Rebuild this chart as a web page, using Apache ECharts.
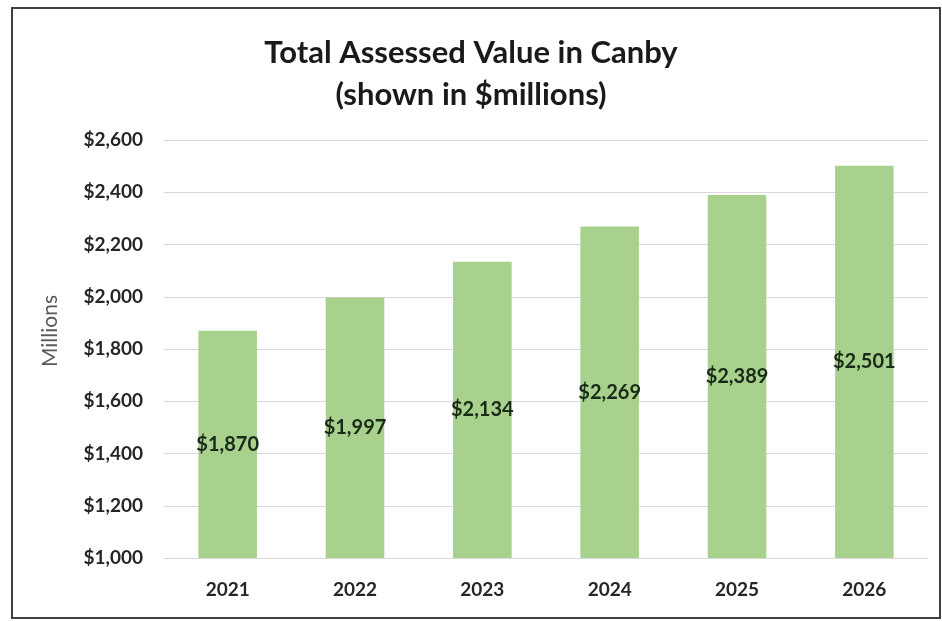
<!DOCTYPE html>
<html>
<head>
<meta charset="utf-8">
<script src="https://cdn.jsdelivr.net/npm/echarts@6/dist/echarts.min.js"></script>
<style>
  html, body { margin: 0; padding: 0; background: #ffffff; }
  #chart { width: 942px; height: 621px; }
</style>
</head>
<body>
<div id="chart"></div>
<script>
// Assessed value by year, in $ millions
const years = ['2021', '2022', '2023', '2024', '2025', '2026'];
const assessedValues = [1870, 1997, 2134, 2269, 2389, 2501];
const yTicks = { min: 1000, max: 2600, step: 200 };

const fmtMoney = v => '$' + Number(v).toLocaleString('en-US');

const chart = echarts.init(document.getElementById('chart'));
chart.setOption({
  backgroundColor: '#ffffff',
  animation: false,
  title: {
    text: 'Total Assessed Value in Canby\n(shown in $millions)',
    left: 'center',
    top: 27,
    textStyle: {
      fontFamily: 'Lato',
      fontWeight: 'bold',
      fontSize: 31,
      lineHeight: 42,
      color: '#1a1a1a'
    }
  },
  grid: { left: 164, right: 14, top: 140, bottom: 63 },
  xAxis: {
    type: 'category',
    data: years,
    axisLine: { show: true, lineStyle: { color: '#d9d9d9', width: 1 } },
    axisTick: { show: false },
    axisLabel: {
      margin: 22,
      fontFamily: 'Lato',
      fontWeight: 'bold',
      fontSize: 19,
      color: '#262626'
    }
  },
  yAxis: {
    type: 'value',
    min: yTicks.min,
    max: yTicks.max,
    interval: yTicks.step,
    axisLine: { show: false },
    axisTick: { show: false },
    splitLine: { lineStyle: { color: '#d9d9d9', width: 1 } },
    axisLabel: {
      margin: 21,
      fontFamily: 'Lato',
      fontWeight: 'bold',
      fontSize: 19,
      color: '#262626',
      formatter: fmtMoney
    }
  },
  series: [{
    type: 'bar',
    data: assessedValues,
    barWidth: '46%',
    itemStyle: { color: '#a9d18e' },
    label: {
      show: true,
      position: 'inside',
      fontFamily: 'Lato',
      fontWeight: 'bold',
      fontSize: 20,
      color: '#182a18',
      formatter: p => fmtMoney(p.value)
    }
  }],
  graphic: [
    {
      type: 'rect',
      shape: { x: 12, y: 8, width: 928, height: 610 },
      style: { fill: 'none', stroke: '#404040', lineWidth: 2 },
      silent: true
    },
    {
      type: 'text',
      x: 50,
      y: 331,
      rotation: Math.PI / 2,
      style: {
        text: 'Millions',
        fontFamily: 'Lato',
        fontSize: 21,
        fill: '#595959',
        align: 'center',
        verticalAlign: 'middle'
      }
    }
  ]
});
</script>
</body>
</html>
